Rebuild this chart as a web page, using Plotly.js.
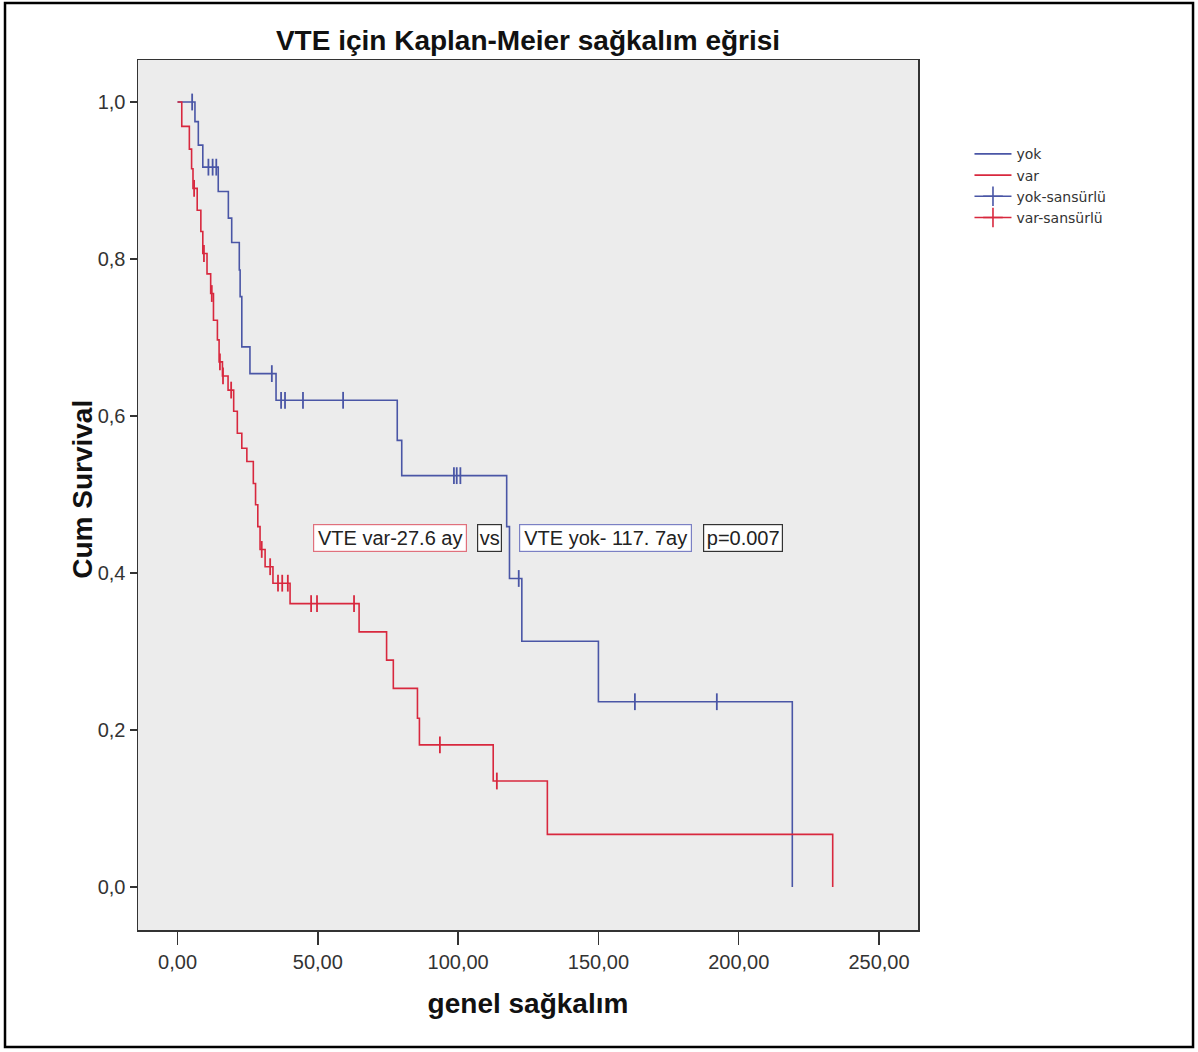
<!DOCTYPE html>
<html>
<head>
<meta charset="utf-8">
<script src="https://cdn.plot.ly/plotly-3.0.1.min.js"></script>
<style>
  html, body { margin: 0; padding: 0; background: #ffffff; }
  #chart { width: 1198px; height: 1052px; }
</style>
</head>
<body>
<div id="chart"></div>
<script>
// ---- Data ----
// Group "yok" (no VTE): event times and survival after each step
const yokTimes = [0, 6.2, 7.4, 9.0, 14.5, 18.1, 19.3, 22.0, 22.3, 22.9, 25.8, 35.1, 78.3, 79.9, 117.3, 118.3, 122.7, 150.0, 219.1];
const yokSurv  = [1.0, 0.975, 0.945, 0.917, 0.886, 0.852, 0.821, 0.786, 0.752, 0.688, 0.654, 0.620, 0.569, 0.524, 0.459, 0.393, 0.313, 0.236, 0.0];
// Censored observations, group "yok"
const yokCensTimes = [5.2, 11.0, 12.5, 13.8, 33.6, 36.9, 38.3, 44.7, 59.0, 98.5, 99.5, 100.8, 121.6, 163.0, 192.2];
const yokCensSurv  = [1.0, 0.917, 0.917, 0.917, 0.654, 0.620, 0.620, 0.620, 0.620, 0.524, 0.524, 0.524, 0.393, 0.236, 0.236];

// Group "var" (VTE present)
const varTimes = [0, 1.5, 4.2, 5.0, 5.5, 7.0, 8.3, 9.0, 10.5, 11.8, 12.8, 14.2, 14.8, 16.0, 18.0, 20.0, 21.3, 22.9, 24.7, 27.0, 27.8, 28.6, 29.4, 31.2, 34.0, 40.1, 64.7, 74.5, 76.9, 85.5, 86.2, 112.5, 131.8, 233.5];
const varSurv  = [1.0, 0.969, 0.940, 0.915, 0.890, 0.862, 0.835, 0.807, 0.781, 0.756, 0.722, 0.697, 0.669, 0.651, 0.633, 0.606, 0.578, 0.559, 0.542, 0.514, 0.487, 0.459, 0.430, 0.408, 0.387, 0.361, 0.325, 0.289, 0.253, 0.215, 0.181, 0.135, 0.067, 0.0];
const varCensTimes = [5.9, 9.4, 12.2, 15.1, 16.2, 19.1, 30.0, 33.0, 35.8, 37.3, 39.3, 47.6, 49.7, 62.9, 93.5, 113.8];
const varCensSurv  = [0.890, 0.807, 0.756, 0.669, 0.651, 0.633, 0.430, 0.408, 0.387, 0.387, 0.387, 0.361, 0.361, 0.361, 0.181, 0.135];

const seriesNames = ["yok", "var", "yok-sansürlü", "var-sansürlü"];
const xTicks = [0, 50, 100, 150, 200, 250];
const yTicks = [0, 0.2, 0.4, 0.6, 0.8, 1.0];
const boxLabels = ["VTE var-27.6 ay", "vs", "VTE yok- 117. 7ay", "p=0.007"];

// ---- Styles ----
const BLUE = "#4a56a6";
const RED = "#d8283e";
const FONT = "Liberation Sans, Arial, sans-serif";

const traces = [
  { x: yokTimes, y: yokSurv, mode: "lines", line: { shape: "hv", color: BLUE, width: 1.6 }, name: seriesNames[0], hoverinfo: "x+y" },
  { x: varTimes, y: varSurv, mode: "lines", line: { shape: "hv", color: RED, width: 1.6 }, name: seriesNames[1], hoverinfo: "x+y" },
  // legend-only entries for censor symbols (line with cross)
  { x: [null], y: [null], mode: "lines+markers", line: { color: BLUE, width: 1.6 },
    marker: { symbol: "cross-thin-open", size: 14, color: BLUE, line: { color: BLUE, width: 1.6 } }, name: seriesNames[2] },
  { x: [null], y: [null], mode: "lines+markers", line: { color: RED, width: 1.6 },
    marker: { symbol: "cross-thin-open", size: 14, color: RED, line: { color: RED, width: 1.6 } }, name: seriesNames[3] },
  // actual censor marks
  { x: yokCensTimes, y: yokCensSurv, mode: "markers", showlegend: false,
    marker: { symbol: "line-ns-open", size: 12, color: BLUE, line: { color: BLUE, width: 1.8 } }, name: seriesNames[2] },
  { x: varCensTimes, y: varCensSurv, mode: "markers", showlegend: false,
    marker: { symbol: "line-ns-open", size: 12, color: RED, line: { color: RED, width: 1.8 } }, name: seriesNames[3] }
];

// plot area: x 138..918 px, y 60..930 px
const annY = 0.4446;
const annCommon = { xref: "x", yref: "y", y: annY, showarrow: false, bgcolor: "#ffffff",
  borderwidth: 1.2, borderpad: 1, height: 24, font: { family: FONT, size: 20, color: "#222222" } };

const layout = {
  width: 1198,
  height: 1052,
  separators: ",.",
  paper_bgcolor: "#ffffff",
  plot_bgcolor: "#ececec",
  margin: { l: 138, r: 280, t: 60, b: 122, pad: 0 },
  font: { family: FONT, color: "#222222" },
  title: {
    text: "<b>VTE için Kaplan-Meier sağkalım eğrisi</b>",
    font: { family: FONT, size: 28, color: "#111111" },
    x: 0.5, xref: "paper", xanchor: "center",
    y: 0.962, yref: "container", yanchor: "middle"
  },
  xaxis: {
    range: [-14.1, 263.9],
    tickmode: "array", tickvals: xTicks, tickformat: ".2f",
    ticks: "outside", ticklen: 13, tickwidth: 1.5, tickcolor: "#333333",
    tickfont: { family: FONT, size: 20, color: "#333333" },
    showgrid: false, zeroline: false,
    showline: true, linecolor: "#333333", linewidth: 1.5, mirror: true,
    title: { text: "<b>genel sağkalım</b>", font: { family: FONT, size: 28, color: "#111111" }, standoff: 22 }
  },
  yaxis: {
    range: [-0.0548, 1.0535],
    tickmode: "array", tickvals: yTicks, tickformat: ".1f",
    ticks: "outside", ticklen: 7, tickwidth: 1.5, tickcolor: "#333333",
    tickfont: { family: FONT, size: 20, color: "#333333" },
    showgrid: false, zeroline: false,
    showline: true, linecolor: "#333333", linewidth: 1.5, mirror: true
  },
  legend: {
    x: 1.066, y: 0.91, xanchor: "left", yanchor: "top",
    bgcolor: "rgba(0,0,0,0)", itemwidth: 37, tracegroupgap: 0,
    font: { family: "DejaVu Sans, Verdana, sans-serif", size: 14, color: "#333333" }
  },
  annotations: [
    { xref: "paper", yref: "paper", x: -0.0705, y: 0.506, xanchor: "center", yanchor: "middle",
      textangle: -90, showarrow: false, text: "<b>Cum Survival</b>",
      font: { family: FONT, size: 28, color: "#111111" } },
    Object.assign({}, annCommon, { x: 75.6, text: boxLabels[0], bordercolor: "#e0707c", width: 150 }),
    Object.assign({}, annCommon, { x: 111.0, text: boxLabels[1], bordercolor: "#333333", width: 21 }),
    Object.assign({}, annCommon, { x: 152.4, text: boxLabels[2], bordercolor: "#7b80c4", width: 169 }),
    Object.assign({}, annCommon, { x: 201.5, text: boxLabels[3], bordercolor: "#333333", width: 76 })
  ],
  shapes: [
    { type: "rect", xref: "paper", yref: "paper",
      x0: -0.1705, x1: 1.3526, y0: -0.1345, y1: 1.0655,
      line: { color: "#000000", width: 2.5 }, fillcolor: "rgba(0,0,0,0)", layer: "below" }
  ],
  showlegend: true
};

Plotly.newPlot("chart", traces, layout, { displayModeBar: false, staticPlot: true });
</script>
</body>
</html>
